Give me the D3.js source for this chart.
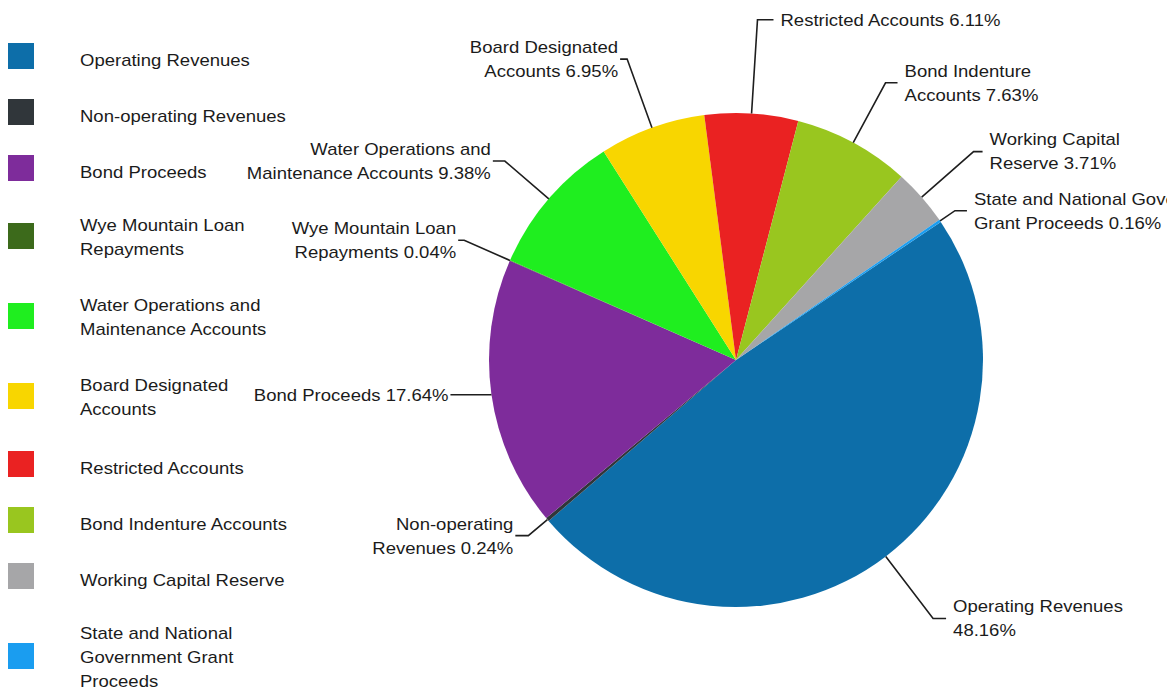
<!DOCTYPE html>
<html>
<head>
<meta charset="utf-8">
<script src="https://cdn.jsdelivr.net/npm/d3@7"></script>
<style>
  html, body { margin: 0; padding: 0; background: #fff; overflow: hidden; }
  text { font-family: "Liberation Sans", Arial, sans-serif; fill: #1b1b1b; }
</style>
</head>
<body>
<svg id="chart" width="1167" height="698"></svg>
<script>
// ---- data ----
const categories = [
  "Operating Revenues",
  "Non-operating Revenues",
  "Bond Proceeds",
  "Wye Mountain Loan Repayments",
  "Water Operations and Maintenance Accounts",
  "Board Designated Accounts",
  "Restricted Accounts",
  "Bond Indenture Accounts",
  "Working Capital Reserve",
  "State and National Government Grant Proceeds"
];
const shares = [48.16, 0.24, 17.64, 0.04, 9.38, 6.95, 6.11, 7.63, 3.71, 0.16];
const colors = ["#0d6ea9", "#30363a", "#7e2c9b", "#3c6a1b", "#1fee1f",
                "#f8d600", "#ea2222", "#99c61f", "#a6a6a8", "#1a9df0"];
// line breaks used in the legend
const legendLines = [
  ["Operating Revenues"],
  ["Non-operating Revenues"],
  ["Bond Proceeds"],
  ["Wye Mountain Loan", "Repayments"],
  ["Water Operations and", "Maintenance Accounts"],
  ["Board Designated", "Accounts"],
  ["Restricted Accounts"],
  ["Bond Indenture Accounts"],
  ["Working Capital Reserve"],
  ["State and National", "Government Grant", "Proceeds"]
];
// line breaks used in the slice labels (percentage is appended to the last line)
const labelLines = [
  ["Operating Revenues", ""],
  ["Non-operating", "Revenues"],
  ["Bond Proceeds"],
  ["Wye Mountain Loan", "Repayments"],
  ["Water Operations and", "Maintenance Accounts"],
  ["Board Designated", "Accounts"],
  ["Restricted Accounts"],
  ["Bond Indenture", "Accounts"],
  ["Working Capital", "Reserve"],
  ["State and National Government", "Grant Proceeds"]
];

// ---- layout ----
const svg = d3.select("#chart");
const cx = 736, cy = 360, radius = 247;
const startDeg = 56;
const fontSize = 16.4, stretch = 1.13, lineH = 24, capH = 11.7;
// distance of each leader elbow from the centre, and length of its horizontal run
const elbowDist = [325, 272, 248, 297, 305, 320, 341, 315, 316, 265];
const elbowRun  = [13, 13, 40, 6, 12, 7, 16, 12, 9, 12];

const rows = categories.map((c, i) => ({ name: c, value: shares[i], color: colors[i], i }));

const pie = d3.pie()
  .sort(null)
  .value(d => d.value)
  .startAngle(startDeg * Math.PI / 180)
  .endAngle(startDeg * Math.PI / 180 + 2 * Math.PI);
const arcs = pie(rows);
const arc = d3.arc().innerRadius(0).outerRadius(radius);

const g = svg.append("g").attr("transform", `translate(${cx},${cy})`);
g.selectAll("path.slice")
  .data(arcs)
  .join("path")
  .attr("class", "slice")
  .attr("d", arc)
  .attr("fill", d => d.data.color);

// helper: draw stretched multi-line text block
function textBlock(parent, x, yFirst, lines, anchor) {
  lines.forEach((ln, k) => {
    parent.append("g")
      .attr("transform", `translate(${x},${yFirst + k * lineH}) scale(${stretch},1)`)
      .append("text")
      .attr("text-anchor", anchor)
      .attr("font-size", fontSize)
      .text(ln);
  });
}

// ---- slice labels with leader lines ----
const labels = svg.append("g");
arcs.forEach(a => {
  const i = a.data.i;
  const mid = (a.startAngle + a.endAngle) / 2;
  const sx = Math.sin(mid), sy = -Math.cos(mid);
  const p0 = [cx + radius * sx, cy + radius * sy];
  const p1 = [cx + elbowDist[i] * sx, cy + elbowDist[i] * sy];
  const right = sx > 0;
  const p2 = [p1[0] + (right ? 1 : -1) * elbowRun[i], p1[1]];
  labels.append("path")
    .attr("d", d3.line()([p0, p1, p2]))
    .attr("fill", "none")
    .attr("stroke", "#1e1e1e")
    .attr("stroke-width", 1.6);
  const pct = d3.format(".2f")(a.data.value) + "%";
  const lines = labelLines[i].slice();
  const last = lines.length - 1;
  lines[last] = lines[last] ? lines[last] + " " + pct : pct;
  const n = lines.length;
  const y0 = p1[1] - (n - 1) * lineH / 2 + capH / 2;
  const tx = right ? p2[0] + 7 : p2[0] - 2;
  textBlock(labels, tx, y0, lines, right ? "start" : "end");
});

// ---- legend ----
const legend = svg.append("g");
let yc = 56;
legendLines.forEach((lines, i) => {
  if (i > 0) {
    yc += 56 + 12 * ((legendLines[i - 1].length - 1) + (lines.length - 1));
  }
  legend.append("rect")
    .attr("x", 8).attr("y", yc - 13)
    .attr("width", 26).attr("height", 26)
    .attr("fill", colors[i]);
  const n = lines.length;
  const y0 = yc + 6 - (n - 1) * lineH / 2 + (n === 1 ? 3.5 : 1);
  textBlock(legend, 80, y0, lines, "start");
});
</script>
</body>
</html>
